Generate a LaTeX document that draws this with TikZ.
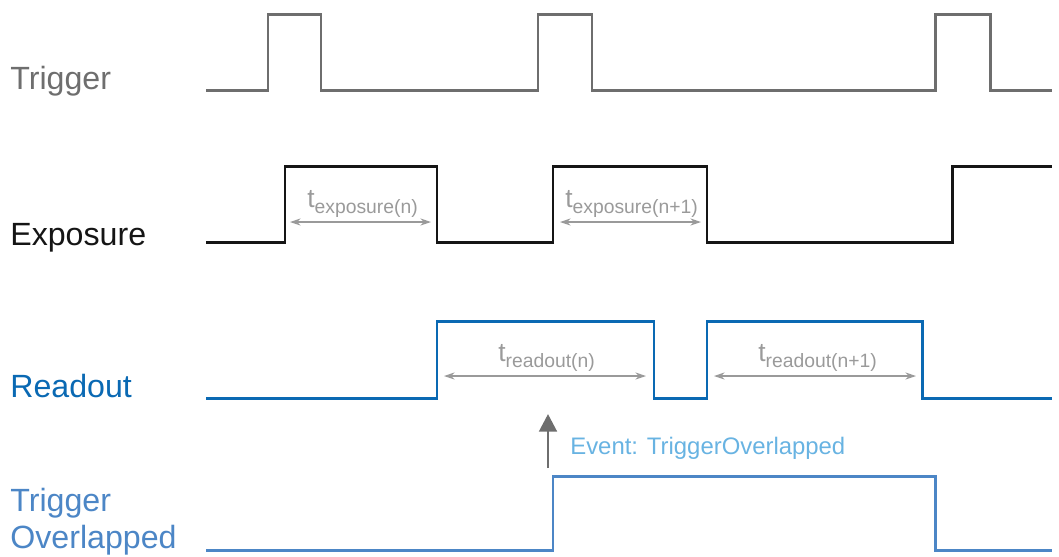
\documentclass[tikz,border=0pt]{standalone}
\usepackage{fontspec}
\setmainfont{Liberation Sans}
\usetikzlibrary{arrows.meta,positioning}

\definecolor{trggray}{HTML}{6E6E6E}
\definecolor{expblack}{HTML}{151515}
\definecolor{rdblue}{HTML}{0A69B3}
\definecolor{ovlblue}{HTML}{4C86C6}
\definecolor{evtblue}{HTML}{68B3E2}
\definecolor{dimgray}{HTML}{9A9A9A}

\newcommand{\tlabel}[1]{{\fontsize{15}{17}\selectfont t}\raisebox{-3.6pt}{\fontsize{11}{13}\selectfont #1}}

\begin{document}
\begin{tikzpicture}[x=0.02cm, y=-0.02cm,
    signal/.style={line width=1.7pt, line join=miter},
    signame/.style={anchor=base west, inner sep=0pt, font=\fontsize{18.3}{21}\selectfont},
    dimline/.style={dimgray, line width=0.7pt, {Stealth[length=6pt,width=4pt]}-{Stealth[length=6pt,width=4pt]}},
    dimtext/.style={dimgray, anchor=base west, inner sep=0pt}]
    \useasboundingbox (0,0) rectangle (1059,556);

    % signal names
    \node[signame, text=trggray] (ntrig) at (10,89) {Trigger};
    \node[signame, text=expblack] (nexp) at (10,245) {Exposure};
    \node[signame, text=rdblue] (nread) at (10,397) {Readout};
    \node[signame, text=ovlblue] (novl1) at (10,511) {Trigger};
    \node[signame, text=ovlblue] (novl2) at (10,548) {Overlapped};

    % waveforms
    \draw[signal, trggray] (206,90) -- (268,90) -- (268,14) -- (321,14) -- (321,90) -- (538,90) -- (538,14) -- (592,14) -- (592,90) -- (935,90) -- (935,14) -- (990,14) -- (990,90) -- (1052,90);
    \draw[signal, expblack] (206,242) -- (285,242) -- (285,166) -- (437,166) -- (437,242) -- (553,242) -- (553,166) -- (707,166) -- (707,242) -- (952,242) -- (952,166) -- (1052,166);
    \draw[signal, rdblue] (206,398) -- (437,398) -- (437,321) -- (654,321) -- (654,398) -- (707,398) -- (707,321) -- (922,321) -- (922,398) -- (1052,398);
    \draw[signal, ovlblue] (206,550) -- (553,550) -- (553,476) -- (935,476) -- (935,550) -- (1052,550);

    % durations
    \coordinate (e1a) at (290,222);
    \coordinate (e1b) at (431,222);
    \coordinate (e2a) at (560,222);
    \coordinate (e2b) at (701,222);
    \coordinate (r1a) at (444,376);
    \coordinate (r1b) at (646,376);
    \coordinate (r2a) at (714,376);
    \coordinate (r2b) at (916,376);
    \draw[dimline] (e1a) -- (e1b);
    \draw[dimline] (e2a) -- (e2b);
    \draw[dimline] (r1a) -- (r1b);
    \draw[dimline] (r2a) -- (r2b);
    \node[dimtext] (texp1) at (307,207) {\tlabel{exposure(n)}};
    \node[dimtext] (texp2) at (565,207) {\tlabel{exposure(n+1)}};
    \node[dimtext] (trd1) at (498,361) {\tlabel{readout(n)}};
    \node[dimtext] (trd2) at (758,361) {\tlabel{readout(n+1)}};

    % event
    \coordinate (evfoot) at (548,468);
    \coordinate (evtip) at (548,414);
    \draw[trggray, line width=1.7pt, -{Triangle[length=10pt,width=10pt]}] (evfoot) -- (evtip);
    \node[anchor=west, inner sep=0pt, text=evtblue, font=\fontsize{13.6}{16}\selectfont] (event) at (570,448) {Event: TriggerOverlapped};
\end{tikzpicture}
\end{document}
